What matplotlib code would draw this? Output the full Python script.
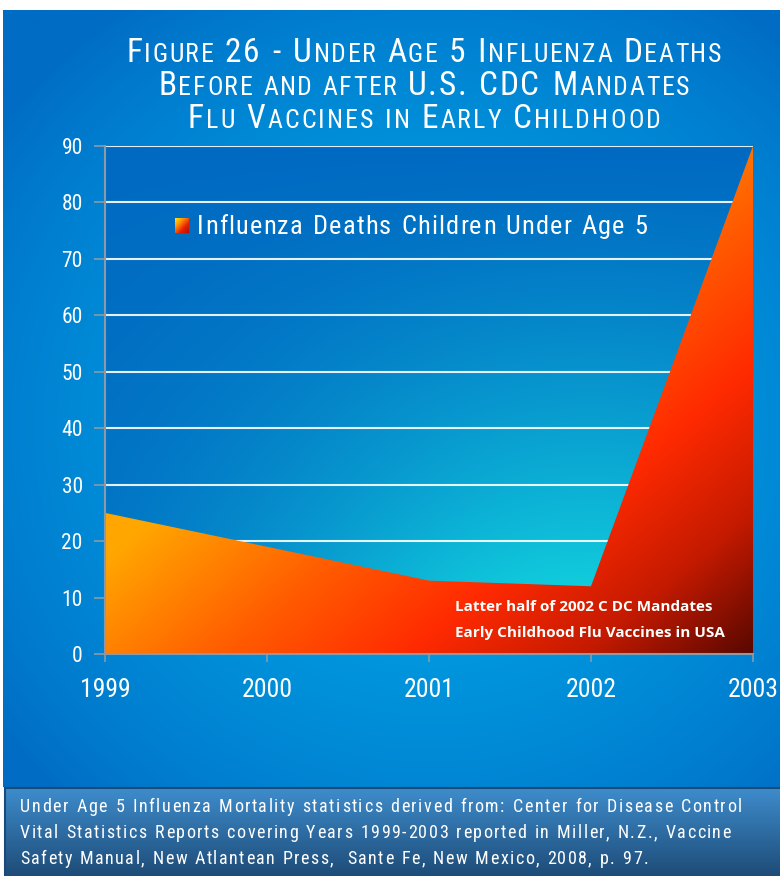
import numpy as np
import matplotlib
matplotlib.use("Agg")
import matplotlib.pyplot as plt
from matplotlib import font_manager
from matplotlib.colors import LinearSegmentedColormap

# data
years = [1999, 2000, 2001, 2002, 2003]
deaths = [25, 19, 13, 12, 90]
y_ticks = [0, 10, 20, 30, 40, 50, 60, 70, 80, 90]
series_label = "Influenza Deaths Children Under Age 5"
note_lines = ["Latter half of 2002 C DC Mandates", "Early Childhood Flu Vaccines in USA"]
footer_lines = [
    "Under Age 5 Influenza Mortality statistics derived from: Center for Disease Control",
    "Vital Statistics Reports covering Years 1999-2003 reported in Miller, N.Z., Vaccine",
    "Safety Manual, New Atlantean Press,  Sante Fe, New Mexico, 2008, p. 97.",
]
# title in small caps: (text, big?) pieces
title_lines = [
    [("F", 1), ("IGURE ", 0), ("26 - U", 1), ("NDER ", 0), ("A", 1), ("GE ", 0), ("5 I", 1),
     ("NFLUENZA ", 0), ("D", 1), ("EATHS", 0)],
    [("B", 1), ("EFORE AND AFTER ", 0), ("U.S. CDC M", 1), ("ANDATES", 0)],
    [("F", 1), ("LU ", 0), ("V", 1), ("ACCINES IN ", 0), ("E", 1), ("ARLY ", 0), ("C", 1), ("HILDHOOD", 0)],
]

W, H = 780, 876


def pick_font(names):
    for n in names:
        try:
            font_manager.findfont(n, fallback_to_default=False)
            return n
        except Exception:
            pass
    return "DejaVu Sans"


NARROW = pick_font(["Liberation Sans Narrow", "DejaVu Sans Condensed", "Roboto Condensed", "Liberation Sans"])
BOLD = pick_font(["Open Sans", "Lato", "Noto Sans"])

fig = plt.figure(figsize=(W / 100, H / 100), dpi=100)
fig.patch.set_facecolor("white")
renderer = fig.canvas.get_renderer()


def px(x, y):
    return x / W, 1 - y / H


# background panel
bg = fig.add_axes([0, 0, 1, 1], zorder=-5)
bg.axis("off")
gx, gy = np.meshgrid(np.linspace(0, W, 200), np.linspace(0, H, 220))
r = np.sqrt(((gx - 430) / 540) ** 2 + ((gy - 470) / 580) ** 2)
t = np.clip(1 - r, 0, 1) ** 0.8
c_out = np.array([0x00, 0x6c, 0xc4]) / 255
c_in = np.array([0x00, 0xb0, 0xee]) / 255
img = c_out * (1 - t[..., None]) + c_in * t[..., None]
bg.imshow(img, extent=[3, W, 787, 10], aspect="auto", interpolation="bilinear")
# footer box
fy = np.linspace(0, 1, 100)[:, None]
c_top = np.array([0x3e, 0x8c, 0xcc]) / 255
c_bot = np.array([0x1e, 0x4c, 0x78]) / 255
fimg = (c_top * (1 - fy) + c_bot * fy)[:, None, :].repeat(2, axis=1)
bg.imshow(fimg, extent=[5, W, H, 788], aspect="auto", interpolation="bilinear")
bg.plot([5, W], [788, 788], color="#1a4a78", lw=1.5)
bg.plot([5, 5], [788, H], color="#1a4a78", lw=1.5)
bg.set_xlim(0, W)
bg.set_ylim(H, 0)

# main axes
ax = fig.add_axes([105 / W, 1 - 654 / H, 648 / W, 508 / H])
ax.set_xlim(years[0], years[-1])
ax.set_ylim(0, 90)
ux, vy = np.meshgrid(np.linspace(0, 1, 200), np.linspace(0, 1, 200))
tt = np.exp(-((ux - 0.75) / 0.55) ** 2) * np.clip(1 - vy, 0, 1) ** 1.3
p_dark = np.array([0x00, 0x6a, 0xc2]) / 255
p_cyan = np.array([0x14, 0xe0, 0xe2]) / 255
pimg = p_dark * (1 - tt[..., None]) + p_cyan * tt[..., None]
ax.imshow(pimg, extent=[years[0], years[-1], 0, 90], origin="lower", aspect="auto",
          interpolation="bilinear", zorder=0)

for yv in y_ticks[1:]:
    ax.axhline(yv, color="white", lw=1.5, alpha=0.9, zorder=1)

fill_cmap = LinearSegmentedColormap.from_list(
    "fill", [(0, "#ffa600"), (0.3, "#ff5c00"), (0.55, "#ff2a00"), (0.78, "#c41a00"), (1, "#5a0800")])
poly = ax.fill_between(years, deaths, 0, facecolor="none", edgecolor="none")
s = np.clip(0.85 * ux - 0.8 * vy + 0.15, 0, 1)
fim = ax.imshow(s, extent=[years[0], years[-1], 0, 90], origin="lower", aspect="auto",
                cmap=fill_cmap, vmin=0, vmax=1, interpolation="bilinear", zorder=2)
fim.set_clip_path(poly.get_paths()[0], transform=ax.transData)

ax.set_xticks(years)
ax.set_yticks(y_ticks)
ax.tick_params(axis="y", length=8, width=1.2, color="#8c9aa8", pad=8, labelcolor="white",
               labelsize=15.5)
ax.tick_params(axis="x", length=6, width=1.2, color="#8c9aa8", pad=11, labelcolor="white",
               labelsize=18.5)
for lab in ax.get_xticklabels() + ax.get_yticklabels():
    lab.set_fontfamily(NARROW)
for sp in ["top", "right"]:
    ax.spines[sp].set_visible(False)
for sp in ["left", "bottom"]:
    ax.spines[sp].set_color("#8c9aa8")
    ax.spines[sp].set_linewidth(1.5)
    ax.spines[sp].set_zorder(3)

# annotation in the fill
for i, line in enumerate(note_lines):
    ax.text(455 / W, 1 - (611 + 26 * i) / H, line, transform=fig.transFigure, color="white",
            fontsize=11, fontweight="bold", family=BOLD, va="baseline", zorder=5)

# legend marker (yellow to red swatch)
marker_cmap = LinearSegmentedColormap.from_list("mk", ["#ffe600", "#ff8a00", "#e82000", "#b01000"])
lax = fig.add_axes([175 / W, 1 - 233 / H, 14 / W, 15 / H])
lu, lv = np.meshgrid(np.linspace(0, 1, 20), np.linspace(0, 1, 20))
lax.imshow((lu + lv) / 2, cmap=marker_cmap, vmin=0, vmax=1,
           aspect="auto", interpolation="bilinear")
lax.axis("off")


def spaced(x0, base, pieces, target_w, ha="left"):
    # draw text char by char with letter spacing so the line spans target_w pixels
    chars = []
    for txt, size in pieces:
        for ch in txt:
            chars.append((ch, size))
    widths = []
    for ch, size in chars:
        if ch == " ":
            widths.append(size * 100 / 72 * 0.28)
        else:
            tmp = fig.text(0, 0, ch, fontsize=size, family=NARROW)
            widths.append(tmp.get_window_extent(renderer).width)
            tmp.remove()
    natural = sum(widths)
    track = (target_w - natural) / max(len(chars) - 1, 1)
    scale = 1.0
    if track < 0:
        scale = target_w / natural
        track = 0
    x = x0 - target_w / 2 if ha == "center" else x0
    for (ch, size), w in zip(chars, widths):
        if ch != " ":
            fig.text(*px(x, base), ch, fontsize=size * scale, family=NARROW, color="white",
                     va="baseline", ha="left")
        x += w * scale + track


# title
title_targets = [(62, 595), (95, 531), (128, 473)]
for line, (base, tw) in zip(title_lines, title_targets):
    pcs = [(txt, 24 if big else 18.5) for txt, big in line]
    spaced(424, base, pcs, tw, ha="center")

# legend text
spaced(197, 234, [(series_label, 19)], 450)

# footer
footer_targets = [(20, 812, 722), (20, 838, 711), (20, 864, 628)]
for line, (x0, base, tw) in zip(footer_lines, footer_targets):
    spaced(x0, base, [(line, 13)], tw)

fig.savefig("out.png", dpi=100, facecolor=fig.get_facecolor())
